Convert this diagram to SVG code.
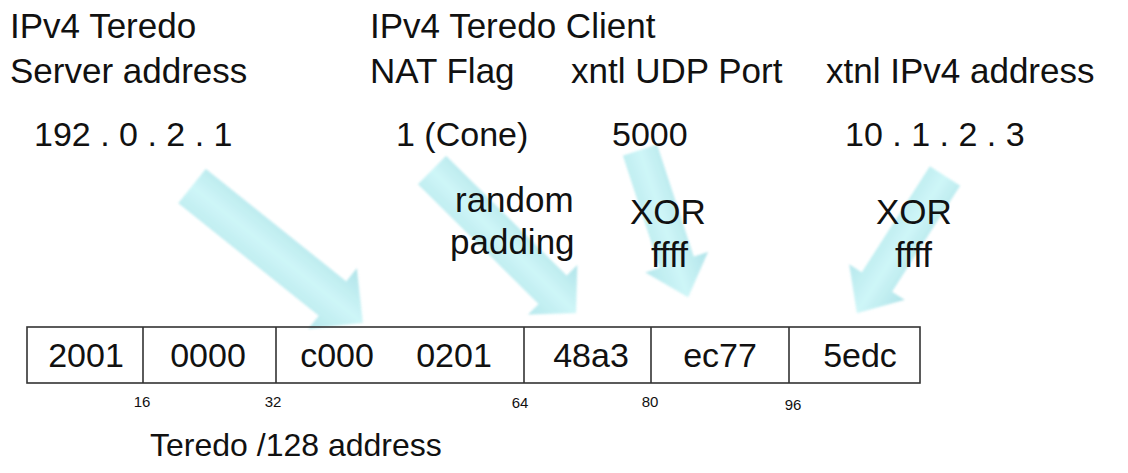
<svg xmlns="http://www.w3.org/2000/svg" width="1128" height="473" viewBox="0 0 1128 473">
<style>
  text { font-family: "Liberation Sans", Arial, sans-serif; fill: #111; }
  .lbl { font-size: 35px; }
  .val { font-size: 34px; }
  .mid { font-size: 35px; }
  .foot { font-size: 32px; }
  .cell { font-size: 34px; text-anchor: middle; }
  .bit { font-size: 15px; text-anchor: middle; }
  .arrow { fill: url(#ag); stroke: none; opacity: 0.88; filter: url(#soft); }
  .box { fill: none; stroke: #333; stroke-width: 1.6; }
</style>
<defs>
  <linearGradient id="ag" x1="0" y1="0" x2="0" y2="1">
    <stop offset="0" stop-color="#a6e0e6"/>
    <stop offset="0.5" stop-color="#c8f5f7"/>
    <stop offset="1" stop-color="#ade5ea"/>
  </linearGradient>
  <filter id="soft" x="-10%" y="-10%" width="120%" height="120%">
    <feGaussianBlur stdDeviation="0.8"/>
  </filter>
</defs>
<rect width="1128" height="473" fill="#fff"/>

<g id="connectors">
  <g transform="translate(192,186) rotate(38.7)">
    <path class="arrow" d="M0,-22 L180,-22 L180,-39 L219,0 L180,39 L180,22 L0,22 Z"/>
  </g>
  <g transform="translate(432,170) rotate(44.8)">
    <path class="arrow" d="M0,-20 L170,-20 L170,-35 L203,0 L170,35 L170,20 L0,20 Z"/>
  </g>
  <g transform="translate(640,150) rotate(71.9)">
    <path class="arrow" d="M0,-18 L118,-18 L118,-33 L155,0 L118,33 L118,18 L0,18 Z"/>
  </g>
  <g transform="translate(945,176) rotate(122.7)">
    <path class="arrow" d="M0,-18 L126,-18 L126,-33 L163,0 L126,33 L126,18 L0,18 Z"/>
  </g>
</g>

<g id="server">
  <text class="lbl" x="10" y="38">IPv4 Teredo</text>
  <text class="lbl" x="10" y="83">Server address</text>
  <text class="val" x="34" y="146">192 . 0 . 2 . 1</text>
</g>
<g id="client">
  <text class="lbl" x="370" y="38">IPv4 Teredo Client</text>
</g>
<g id="nat">
  <text class="lbl" x="370" y="83">NAT Flag</text>
  <text class="val" x="396" y="146">1 (Cone)</text>
  <text class="mid" x="455" y="212">random</text>
  <text class="mid" x="450" y="254">padding</text>
</g>
<g id="port">
  <text class="lbl" x="571" y="83">xntl UDP Port</text>
  <text class="val" x="612" y="146">5000</text>
  <text class="mid" x="630" y="224">XOR</text>
  <text class="mid" x="651" y="267">ffff</text>
</g>
<g id="addr">
  <text class="lbl" x="826" y="83">xtnl IPv4 address</text>
  <text class="val" x="845" y="146">10 . 1 . 2 . 3</text>
  <text class="mid" x="876" y="224">XOR</text>
  <text class="mid" x="895" y="267">ffff</text>
</g>

<g id="teredo-address">
  <rect class="box" x="27" y="327" width="893" height="56"/>
  <line class="box" x1="143" y1="327" x2="143" y2="383"/>
  <line class="box" x1="276" y1="327" x2="276" y2="383"/>
  <line class="box" x1="524" y1="327" x2="524" y2="383"/>
  <line class="box" x1="651" y1="327" x2="651" y2="383"/>
  <line class="box" x1="789" y1="327" x2="789" y2="383"/>
  <text class="cell" x="86" y="367">2001</text>
  <text class="cell" x="208" y="367">0000</text>
  <text class="cell" x="337" y="367">c000</text>
  <text class="cell" x="454" y="367">0201</text>
  <text class="cell" x="591" y="367">48a3</text>
  <text class="cell" x="720" y="367">ec77</text>
  <text class="cell" x="860" y="367">5edc</text>
  <text class="bit" x="142" y="407">16</text>
  <text class="bit" x="273" y="407">32</text>
  <text class="bit" x="520" y="408">64</text>
  <text class="bit" x="650" y="407">80</text>
  <text class="bit" x="793" y="410">96</text>
  <text class="foot" x="150" y="456">Teredo /128 address</text>
</g>
</svg>
